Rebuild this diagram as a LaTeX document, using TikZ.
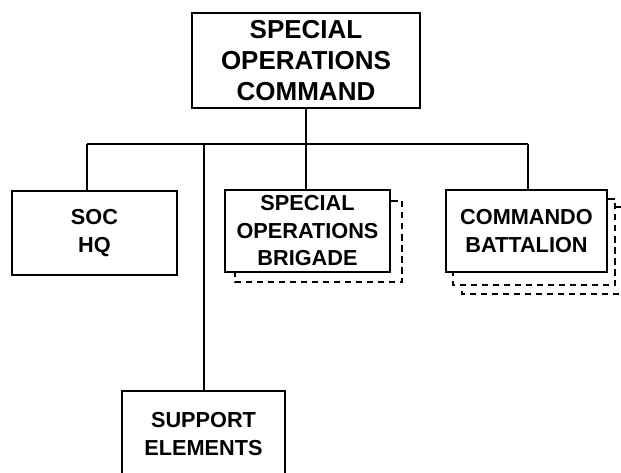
\documentclass[tikz,border=0pt]{standalone}
\usepackage{fontspec}
\setmainfont{Liberation Sans}
\begin{document}
\begin{tikzpicture}[x=1pt,y=-1pt,
  box/.style={draw, line width=2pt, align=center, inner sep=0pt, fill=white,
    font=\bfseries\fontsize{21.7}{27.5}\selectfont},
  bigbox/.style={box, font=\bfseries\fontsize{26}{31}\selectfont},
  link/.style={line width=2pt},
  shadowline/.style={line width=2pt, dash pattern=on 6.5pt off 4.5pt}]
\useasboundingbox (0,0) rectangle (621,473);
\node[bigbox, minimum width=228pt, minimum height=95pt] (soc) at (306,60.5)
  {SPECIAL\\OPERATIONS\\COMMAND};
\node[box, minimum width=165pt, minimum height=84pt] (hq) at (94.5,233) {SOC\\HQ};
\node[box, minimum width=165pt, minimum height=82pt] (sob) at (307.5,231)
  {SPECIAL\\OPERATIONS\\BRIGADE};
\node[box, minimum width=161pt, minimum height=82pt] (cmd) at (526.5,231)
  {COMMANDO\\BATTALION};
\node[box, minimum width=163pt, minimum height=86pt, text depth=0pt] (sup) at (203.5,434)
  {SUPPORT\\ELEMENTS};
% bus
\coordinate (busL) at (87,144);
\coordinate (busR) at (528,144);
\draw[link] (busL) -- (busR);
\draw[link] (soc.south) -- (soc.south |- sob.north);
\draw[link] (busL) -- (busL |- hq.north);
\draw[link] (sup.north) -- (sup.north |- busL);
\draw[link] (busR) -- (busR |- cmd.north);
% dashed stacked frames
\draw[shadowline] ([yshift=-12pt]sob.north east) -| ([xshift=11pt,yshift=-9pt]sob.south east)
  -| ([xshift=11pt]sob.south west);
\draw[shadowline] ([yshift=-10pt]cmd.north east) -| ([xshift=7pt,yshift=-12pt]cmd.south east)
  -| ([xshift=8pt]cmd.south west);
\draw[shadowline] ([xshift=7pt,yshift=-18pt]cmd.north east) -| ([xshift=15pt,yshift=-21pt]cmd.south east)
  -| ([xshift=17pt,yshift=-12pt]cmd.south west);
\end{tikzpicture}
\end{document}
